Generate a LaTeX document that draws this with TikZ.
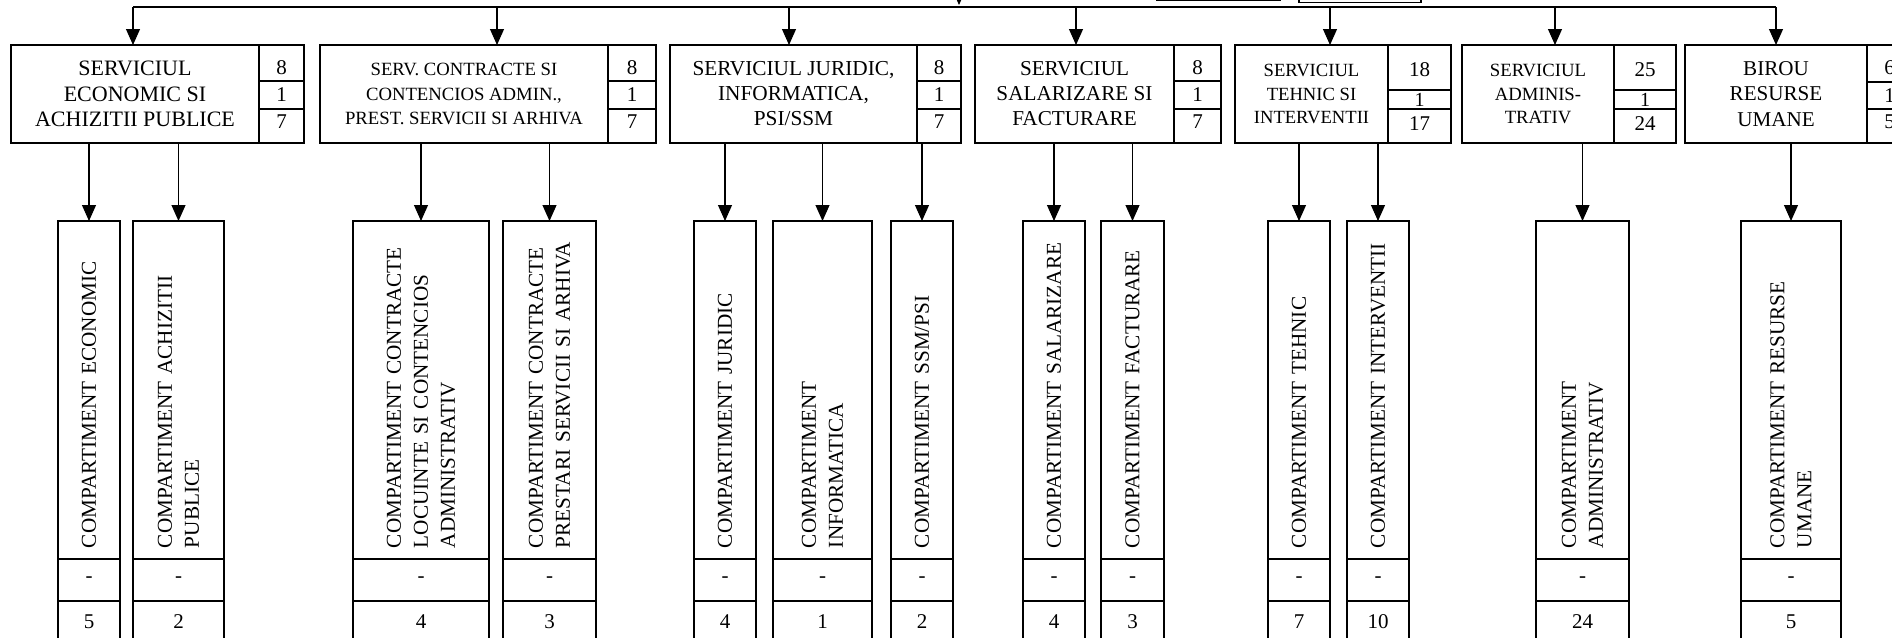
\documentclass[tikz,border=0pt]{standalone}
\usepackage{fontspec}
\setmainfont{Liberation Serif}
\usetikzlibrary{arrows.meta}
\begin{document}
\begin{tikzpicture}[x=1pt,y=-1pt,
  conn/.style={line width=1.1pt},
  arr/.style={conn,-{Triangle[length=16pt,width=14pt]}},
  svc/.style={draw,line width=1.5pt,inner sep=0pt,outer sep=0pt,align=center,anchor=north west,minimum height=98pt},
  num/.style={draw,line width=1.5pt,inner sep=0pt,outer sep=0pt,anchor=north west},
  numtxt/.style={inner sep=0pt,font=\fontsize{21}{21}\selectfont},
  comp/.style={draw,line width=1.5pt,rotate=90,anchor=east,text width=316pt,align=left,inner xsep=11pt,inner ysep=0pt,outer sep=0pt,font=\fontsize{21.2}{27}\selectfont},
  cell/.style={draw,line width=1.5pt,inner sep=0pt,outer sep=0pt,anchor=north,minimum height=42pt,font=\fontsize{21}{21}\selectfont},
  topbox/.style={draw,line width=1.3pt,inner sep=0pt,outer sep=0pt,anchor=south west,minimum height=40pt},
]
\useasboundingbox (0,0) rectangle (1892,637);
\clip (0,0) rectangle (1892,637);

% boxes above (cut off)
\node[topbox,minimum width=123pt] (topA) at (1157,0.5) {};
\node[topbox,minimum width=122pt] (topB) at (1299,2.5) {};
\coordinate (p0) at (959,-30);
\coordinate (pin) at (959,5);
\draw[arr] (p0) -- (pin);

% services
\node[svc,minimum width=248pt,font=\fontsize{22}{25.5}\selectfont] (s1) at (11,45) {SERVICIUL\\ECONOMIC SI\\ACHIZITII PUBLICE};
\node[num,minimum width=45pt,minimum height=36pt] (s1a) at (s1.north east) {};
\node[num,minimum width=45pt,minimum height=28pt] (s1b) at (s1a.south west) {};
\node[num,minimum width=45pt,minimum height=34pt] (s1c) at (s1b.south west) {};
\node[numtxt,yshift=-5pt] (s1at) at (s1a) {8};
\node[numtxt] (s1bt) at (s1b) {1};
\node[numtxt,yshift=4pt] (s1ct) at (s1c) {7};

\node[svc,minimum width=288pt,font=\fontsize{18.7}{24.5}\selectfont] (s2) at (320,45) {SERV. CONTRACTE SI\\CONTENCIOS ADMIN.,\\PREST. SERVICII SI ARHIVA};
\node[num,minimum width=48pt,minimum height=36pt] (s2a) at (s2.north east) {};
\node[num,minimum width=48pt,minimum height=28pt] (s2b) at (s2a.south west) {};
\node[num,minimum width=48pt,minimum height=34pt] (s2c) at (s2b.south west) {};
\node[numtxt,yshift=-5pt] (s2at) at (s2a) {8};
\node[numtxt] (s2bt) at (s2b) {1};
\node[numtxt,yshift=4pt] (s2ct) at (s2c) {7};

\node[svc,minimum width=247pt,font=\fontsize{21.3}{25}\selectfont] (s3) at (670,45) {SERVICIUL JURIDIC,\\INFORMATICA,\\PSI/SSM};
\node[num,minimum width=44pt,minimum height=36pt] (s3a) at (s3.north east) {};
\node[num,minimum width=44pt,minimum height=28pt] (s3b) at (s3a.south west) {};
\node[num,minimum width=44pt,minimum height=34pt] (s3c) at (s3b.south west) {};
\node[numtxt,yshift=-5pt] (s3at) at (s3a) {8};
\node[numtxt] (s3bt) at (s3b) {1};
\node[numtxt,yshift=4pt] (s3ct) at (s3c) {7};

\node[svc,minimum width=199pt,font=\fontsize{21.2}{25}\selectfont] (s4) at (975,45) {SERVICIUL\\SALARIZARE SI\\FACTURARE};
\node[num,minimum width=47pt,minimum height=36pt] (s4a) at (s4.north east) {};
\node[num,minimum width=47pt,minimum height=28pt] (s4b) at (s4a.south west) {};
\node[num,minimum width=47pt,minimum height=34pt] (s4c) at (s4b.south west) {};
\node[numtxt,yshift=-5pt] (s4at) at (s4a) {8};
\node[numtxt] (s4bt) at (s4b) {1};
\node[numtxt,yshift=4pt] (s4ct) at (s4c) {7};

\node[svc,minimum width=153pt,font=\fontsize{18.6}{23.5}\selectfont] (s5) at (1235,45) {SERVICIUL\\TEHNIC SI\\INTERVENTII};
\node[num,minimum width=63pt,minimum height=45pt] (s5a) at (s5.north east) {};
\node[num,minimum width=63pt,minimum height=19pt] (s5b) at (s5a.south west) {};
\node[num,minimum width=63pt,minimum height=34pt] (s5c) at (s5b.south west) {};
\node[numtxt,yshift=-2pt] (s5at) at (s5a) {18};
\node[numtxt,font=\fontsize{20}{20}\selectfont] (s5bt) at (s5b) {1};
\node[numtxt,yshift=2pt] (s5ct) at (s5c) {17};

\node[svc,minimum width=152pt,font=\fontsize{18.7}{23.5}\selectfont] (s6) at (1462,45) {SERVICIUL\\ADMINIS-\\TRATIV};
\node[num,minimum width=62pt,minimum height=45pt] (s6a) at (s6.north east) {};
\node[num,minimum width=62pt,minimum height=19pt] (s6b) at (s6a.south west) {};
\node[num,minimum width=62pt,minimum height=34pt] (s6c) at (s6b.south west) {};
\node[numtxt,yshift=-2pt] (s6at) at (s6a) {25};
\node[numtxt,font=\fontsize{20}{20}\selectfont] (s6bt) at (s6b) {1};
\node[numtxt,yshift=2pt] (s6ct) at (s6c) {24};

\node[svc,minimum width=182pt,font=\fontsize{21.1}{25.5}\selectfont] (s7) at (1685,45) {BIROU\\RESURSE\\UMANE};
\node[num,minimum width=45pt,minimum height=37pt] (s7a) at (s7.north east) {};
\node[num,minimum width=45pt,minimum height=27pt] (s7b) at (s7a.south west) {};
\node[num,minimum width=45pt,minimum height=34pt] (s7c) at (s7b.south west) {};
\node[numtxt,yshift=-4pt] (s7at) at (s7a) {6};
\node[numtxt] (s7bt) at (s7b) {1};
\node[numtxt,yshift=4pt] (s7ct) at (s7c) {5};

% top distribution line
\coordinate (t1) at (133,7);
\coordinate (t2) at (497,7);
\coordinate (t3) at (789,7);
\coordinate (t4) at (1076,7);
\coordinate (t5) at (1330,7);
\coordinate (t6) at (1555,7);
\coordinate (t7) at (1776,7);
\draw[conn] (t1) -- (t7);
\foreach \i in {1,...,7} {\draw[arr] (t\i) -- (t\i |- s\i.north);}

% compartments
\node[comp,minimum height=62pt] (c1) at (89,221) {COMPARTIMENT ECONOMIC};
\node[comp,minimum height=91pt] (c2) at (178.5,221) {COMPARTIMENT ACHIZITII\\PUBLICE};
\node[comp,minimum height=136pt] (c3) at (421,221) {COMPARTIMENT CONTRACTE\\LOCUINTE SI CONTENCIOS\\ADMINISTRATIV};
\node[comp,minimum height=93pt] (c4) at (549.5,221) {COMPARTIMENT CONTRACTE\\PRESTARI SERVICII SI ARHIVA};
\node[comp,minimum height=62pt] (c5) at (725,221) {COMPARTIMENT JURIDIC};
\node[comp,minimum height=99pt] (c6) at (822.5,221) {COMPARTIMENT\\INFORMATICA};
\node[comp,minimum height=62pt] (c7) at (922,221) {COMPARTIMENT SSM/PSI};
\node[comp,minimum height=62pt] (c8) at (1054,221) {COMPARTIMENT SALARIZARE};
\node[comp,minimum height=63pt] (c9) at (1132.5,221) {COMPARTIMENT FACTURARE};
\node[comp,minimum height=62pt] (c10) at (1299,221) {COMPARTIMENT TEHNIC};
\node[comp,minimum height=62pt] (c11) at (1378,221) {COMPARTIMENT INTERVENTII};
\node[comp,minimum height=93pt] (c12) at (1582.5,221) {COMPARTIMENT\\ADMINISTRATIV};
\node[comp,minimum height=100pt] (c13) at (1791,221) {COMPARTIMENT RESURSE\\UMANE};

\foreach \i/\w/\v in {1/62/5,2/91/2,3/136/4,4/93/3,5/62/4,6/99/1,7/62/2,8/62/4,9/63/3,10/62/7,11/62/10,12/93/24,13/100/5} {
  \node[cell,minimum width=\w pt] (c\i d) at (c\i.west) {-};
  \node[cell,minimum width=\w pt] (c\i n) at (c\i d.south) {\v};
}

% connectors to compartments
\foreach \i/\p in {1/s1,2/s1,3/s2,4/s2,5/s3,6/s3,7/s3,8/s4,9/s4,10/s5,11/s5,12/s6,13/s7} {
  \draw[arr] (c\i.east |- \p.south) -- (c\i.east);
}
\end{tikzpicture}
\end{document}
